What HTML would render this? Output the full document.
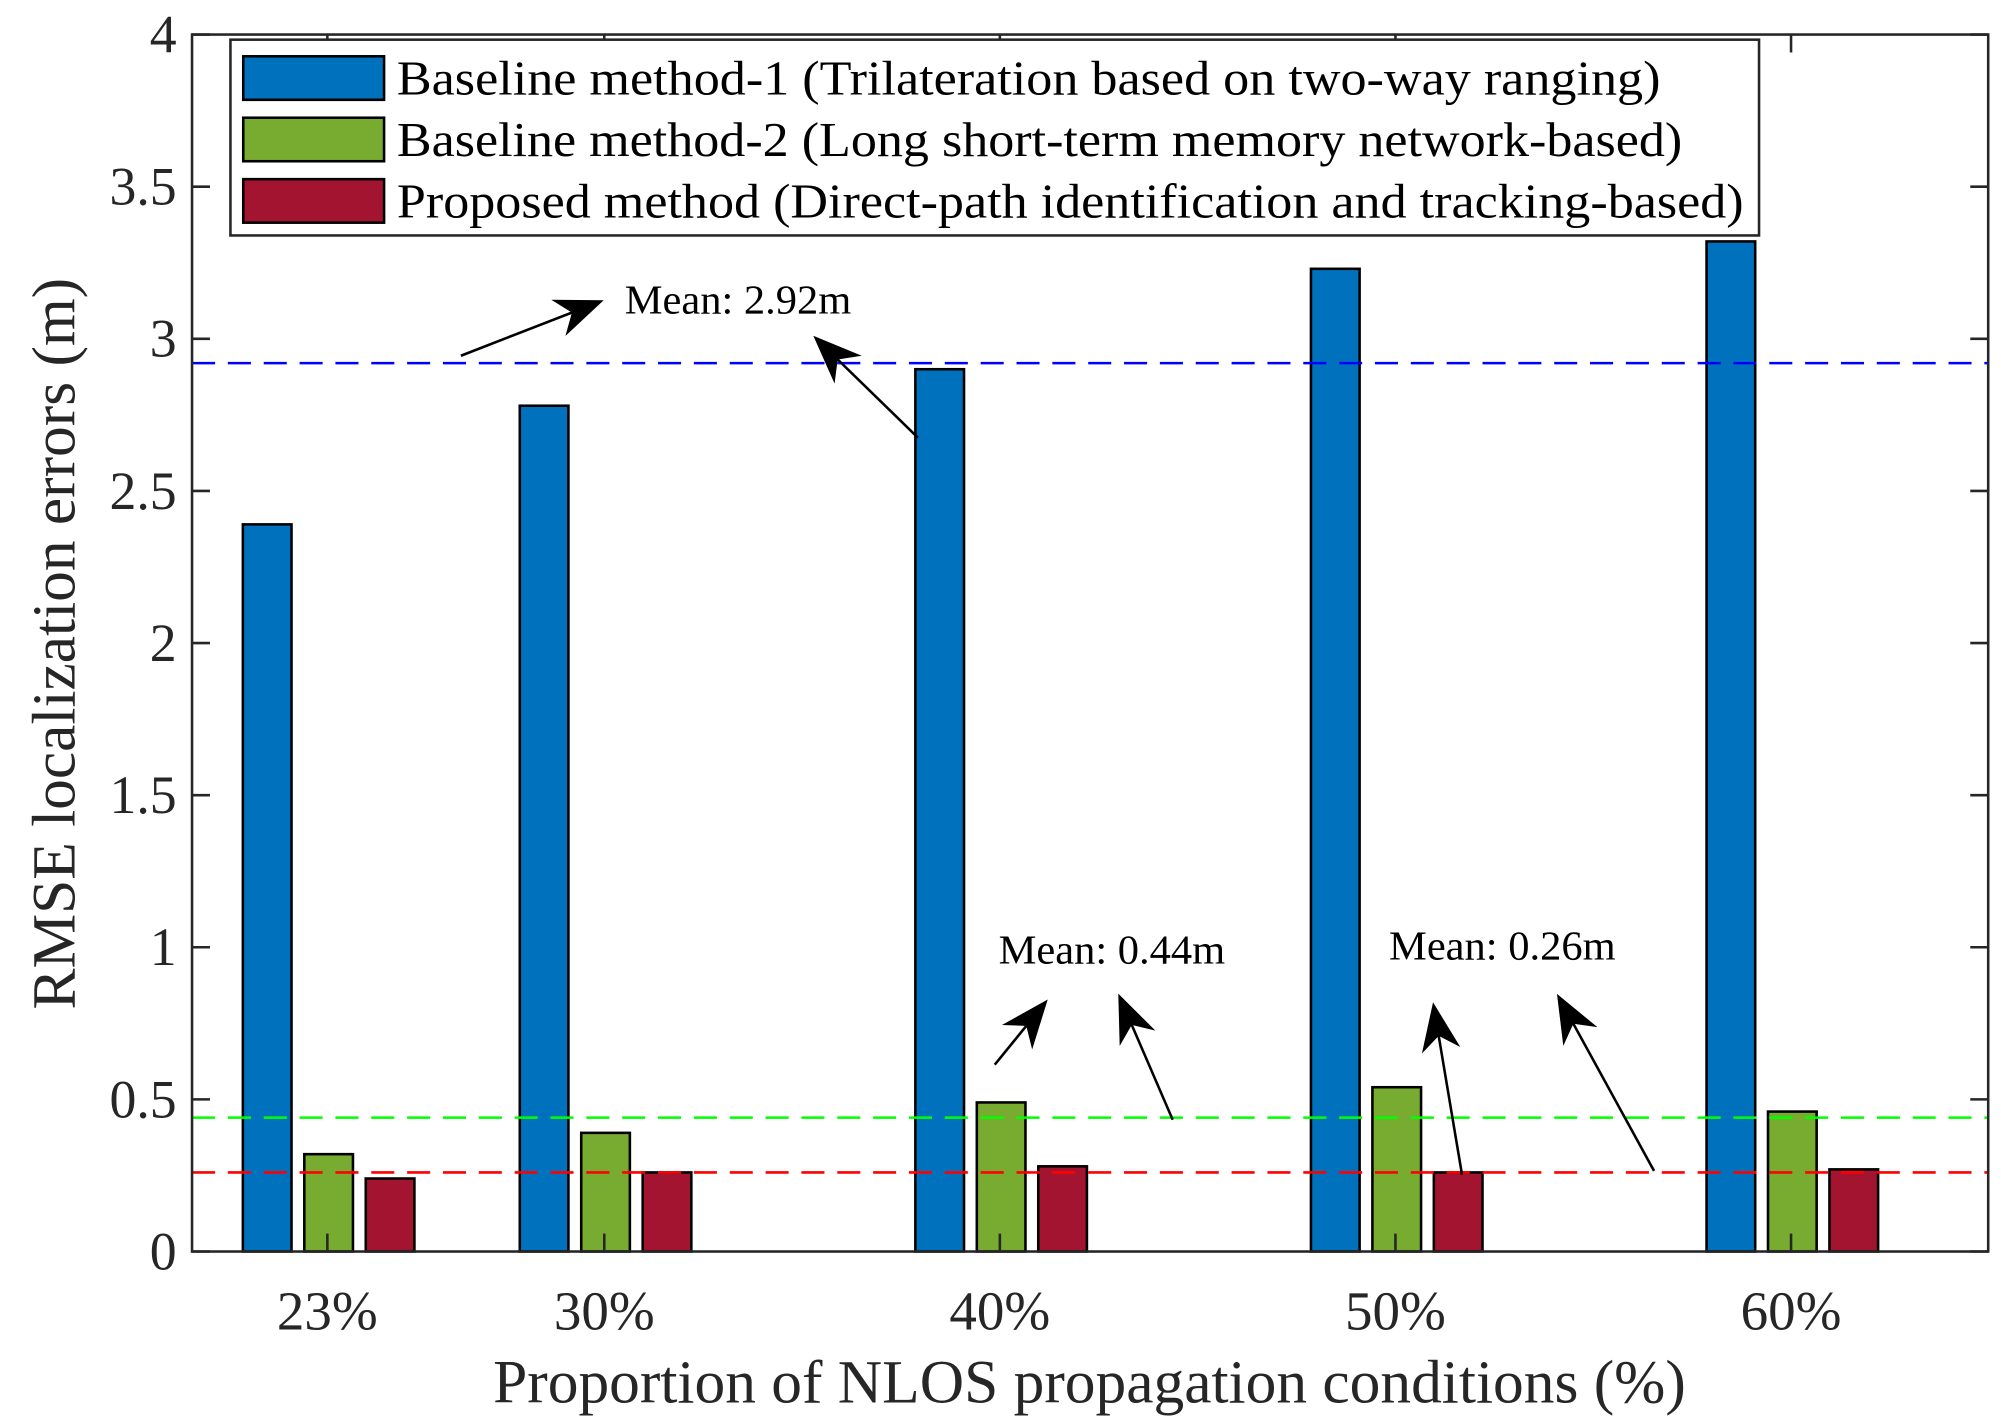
<!DOCTYPE html>
<html><head><meta charset="utf-8"><style>
html,body{margin:0;padding:0;background:#fff;}
svg{display:block;font-family:"Liberation Serif",serif;}
</style></head><body>
<svg id="chart" width="2001" height="1423" viewBox="0 0 1563 1112" preserveAspectRatio="none" xmlns="http://www.w3.org/2000/svg">
<defs>
<marker id="ah2" viewBox="0 0 10 10" refX="9" refY="5" markerWidth="38" markerHeight="38" orient="auto" markerUnits="userSpaceOnUse"><path d="M0,1 L10,5 L0,9 L3,5 z" fill="#000"/></marker></defs>
<g id="plot"></g>
</svg>
<script>
const categories = [23, 30, 40, 50, 60];
const catLabels = ["23%", "30%", "40%", "50%", "60%"];
const baseline1 = [2.39, 2.78, 2.90, 3.23, 3.32];
const baseline2 = [0.32, 0.39, 0.49, 0.54, 0.46];
const proposed = [0.24, 0.26, 0.28, 0.26, 0.27];
const means = [2.92, 0.44, 0.26];
const yTicks = [0, 0.5, 1, 1.5, 2, 2.5, 3, 3.5, 4];
const yTickLabels = ["0", "0.5", "1", "1.5", "2", "2.5", "3", "3.5", "4"];

const NS = "http://www.w3.org/2000/svg";
const L = 150, R = 1553, T = 27, B = 978;
const x = v => 472 + (v - 30) * 30.9;
const y = v => B - v * (B - T) / 4;
const g = document.getElementById('plot');
function mk(tag, attrs, parent) {
  const e = document.createElementNS(NS, tag);
  for (const k in attrs) e.setAttribute(k, attrs[k]);
  (parent || g).appendChild(e);
  return e;
}
const series = [[baseline1, "#0072BD", -47, "bar-baseline1"], [baseline2, "#77AC30", 1, "bar-baseline2"], [proposed, "#A2142F", 49, "bar-proposed"]];
series.forEach(s => {
  s[0].forEach((v, i) => {
    const cx = x(categories[i]) + s[2];
    const r = mk('rect', {x: cx - 19, y: y(v), width: 38, height: y(0) - y(v), fill: s[1], stroke: "#000", "stroke-width": 2});
    
    
  });
});
const meanColors = ["#0000FF", "#00FF00", "#FF0000"];
means.forEach((m, i) => {
  const l = mk('line', {x1: L, x2: R, y1: y(m), y2: y(m), stroke: meanColors[i], "stroke-width": 2, "stroke-dasharray": "18,10"});
  
  
});
const box = mk('rect', {x: L, y: T, width: R - L, height: B - T, fill: "none", stroke: "#262626", "stroke-width": 2});


yTicks.forEach((t, i) => {
  mk('line', {x1: L, x2: L + 14, y1: y(t), y2: y(t), stroke: "#262626", "stroke-width": 2});
  mk('line', {x1: R, x2: R - 14, y1: y(t), y2: y(t), stroke: "#262626", "stroke-width": 2});
  const tx = mk('text', {x: L - 12, y: y(t) + 14, "text-anchor": "end", "font-size": 42, fill: "#262626"});
  tx.textContent = yTickLabels[i];
  
  
});
categories.forEach((c, i) => {
  mk('line', {x1: x(c), x2: x(c), y1: B, y2: B - 14, stroke: "#262626", "stroke-width": 2});
  mk('line', {x1: x(c), x2: x(c), y1: T, y2: T + 14, stroke: "#262626", "stroke-width": 2});
  const tx = mk('text', {x: x(c), y: 1039, "text-anchor": "middle", "font-size": 43, fill: "#262626"});
  tx.textContent = catLabels[i];
  
  
});
</script>
<script>
(function(){
const NS = "http://www.w3.org/2000/svg";
const g = document.getElementById('plot');
function mk(tag, attrs) { const e = document.createElementNS(NS, tag); for (const k in attrs) e.setAttribute(k, attrs[k]); g.appendChild(e); return e; }
let t = mk('text', {x: 851, y: 1096, "text-anchor": "middle", "font-size": 48, fill: "#262626"});
t.textContent = "Proportion of NLOS propagation conditions (%)";


t = mk('text', {x: 0, y: 0, "text-anchor": "middle", "font-size": 48, fill: "#262626", transform: "translate(58,503) rotate(-90)"});
t.textContent = "RMSE localization errors (m)";


const lg = mk('rect', {x: 180, y: 31, width: 1194, height: 153, fill: "#fff", stroke: "#262626", "stroke-width": 2});


const items = [["#0072BD", "Baseline method-1 (Trilateration based on two-way ranging)", 987], ["#77AC30", "Baseline method-2 (Long short-term memory network-based)", 1004], ["#A2142F", "Proposed method (Direct-path identification and tracking-based)", 1052]];
items.forEach((it, i) => {
  const cy = 61 + i * 48;
  const r = mk('rect', {x: 190, y: cy - 17, width: 110, height: 34, fill: it[0], stroke: "#000", "stroke-width": 2});
  
  
  const tx = mk('text', {x: 310, y: cy + 13, "font-size": 38, fill: "#000", textLength: it[2], lengthAdjust: "spacingAndGlyphs"});
  tx.textContent = it[1];
  
  
});
const texts = [[488, 245, "Mean: 2.92m"], [780, 753, "Mean: 0.44m"], [1085, 750, "Mean: 0.26m"]];
texts.forEach(a => {
  const tx = mk('text', {x: a[0], y: a[1], "font-size": 32, fill: "#000", textLength: 177, lengthAdjust: "spacingAndGlyphs"});
  tx.textContent = a[2];
  
  
});
const arrows = [[360,278,468,236],[717,342,638,265],[777,832,816,784],[916,875,875,780],[1142,918,1120,787],[1292,915,1218,780]];
arrows.forEach(a => {
  const l = mk('line', {x1: a[0], y1: a[1], x2: a[2], y2: a[3], stroke: "#000", "stroke-width": 2, "marker-end": "url(#ah2)"});
  
  
});
})();
</script>
</body></html>
